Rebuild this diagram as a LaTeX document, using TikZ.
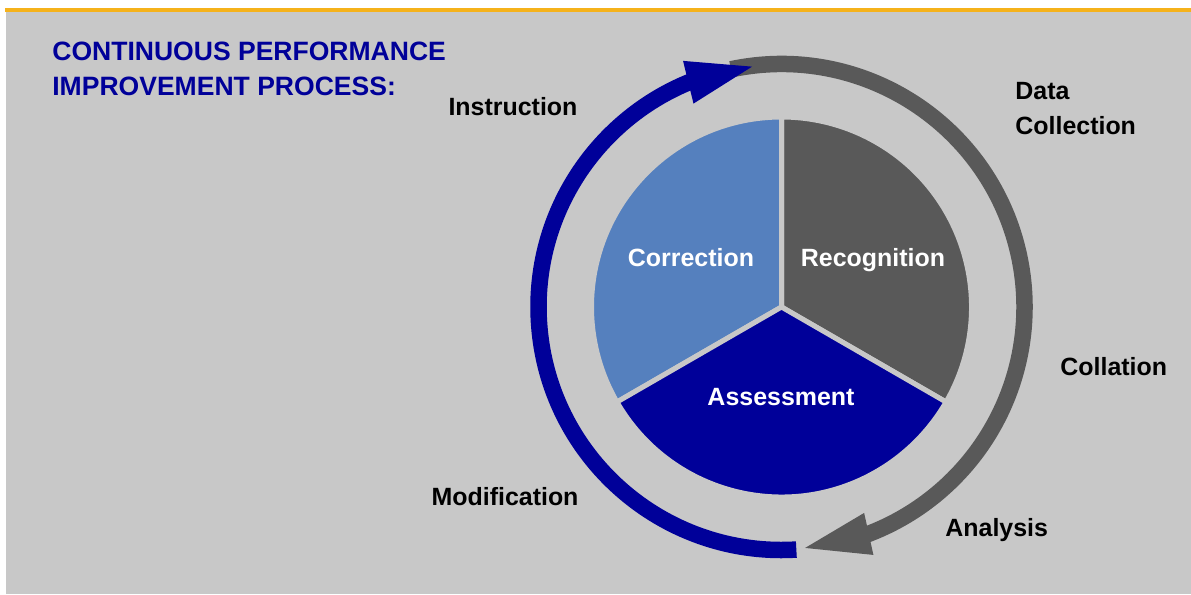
\documentclass[tikz,border=0pt]{standalone}
\usepackage{fontspec}
\setmainfont{Liberation Sans}
\usetikzlibrary{arrows.meta,bending}
\definecolor{bggray}{HTML}{C8C8C8}
\definecolor{ringblue}{HTML}{000099}
\definecolor{pgray}{HTML}{595959}
\definecolor{paleblue}{HTML}{5580BE}
\definecolor{barorange}{HTML}{F5B21B}

\begin{document}
\begin{tikzpicture}[
	stagetext/.style={font=\fontsize{14.2}{19.8}\selectfont\bfseries, text=black, inner sep=0pt},
	sectortext/.style={stagetext, text=white},
	titletext/.style={font=\fontsize{15.1}{19.8}\selectfont\bfseries, text=ringblue, inner sep=0pt},
	sector/.style={draw=bggray, line width=1mm, line join=round},
	ring/.style={line width=0.33cm}
	]
	\useasboundingbox (0,0) rectangle (23.82,11.88);
	% Background and top bar
	\fill[white] (0,0) rectangle (23.82,11.88);
	\fill[bggray] (0.12,0) rectangle (23.82,11.64);
	\fill[barorange] (0.1,11.64) rectangle (23.82,11.72);
	
	\coordinate (c) at (15.63,5.74);
	
	% Pie of three stages
	\filldraw[sector, fill=pgray] (c) -- ([shift={(-30:3.8)}]c) arc[start angle=-30, end angle=90, radius=3.8] -- cycle;
	\filldraw[sector, fill=paleblue] (c) -- ([shift={(90:3.8)}]c) arc[start angle=90, end angle=210, radius=3.8] -- cycle;
	\filldraw[sector, fill=ringblue] (c) -- ([shift={(210:3.8)}]c) arc[start angle=210, end angle=330, radius=3.8] -- cycle;
	
	% Outer cycle arrows (gray first, its start hides under the blue head)
	\draw[ring, draw=pgray, -{Triangle[length=1.44cm, width=0.74cm, flex]}]
	([shift={(102:4.86)}]c) arc[start angle=102, end angle=-86, radius=4.86];
	\draw[ring, draw=ringblue, -{Triangle[length=1.44cm, width=0.76cm, flex]}]
	([shift={(273.5:4.86)}]c) arc[start angle=273.5, end angle=95.5, radius=4.86];
	
	\node[titletext, anchor=north west, align=left] (title) at (1.04,11.04) {CONTINUOUS PERFORMANCE\\IMPROVEMENT PROCESS:};
	
	\node[stagetext] (instruction) at (10.26,9.74) {Instruction};
	\node[stagetext, anchor=west, align=left] (datacoll) at (20.3,9.71) {Data\\Collection};
	\node[stagetext, anchor=west] (collation) at (21.2,4.54) {Collation};
	\node[stagetext, anchor=west] (analysis) at (18.9,1.28) {Analysis};
	\node[stagetext] (modification) at (10.1,1.94) {Modification};
	
	\node[sectortext] (correction) at (13.82,6.72) {Correction};
	\node[sectortext] (recognition) at (17.46,6.68) {Recognition};
	\node[sectortext] (assessment) at (15.62,3.94) {Assessment};
\end{tikzpicture}
\end{document}
